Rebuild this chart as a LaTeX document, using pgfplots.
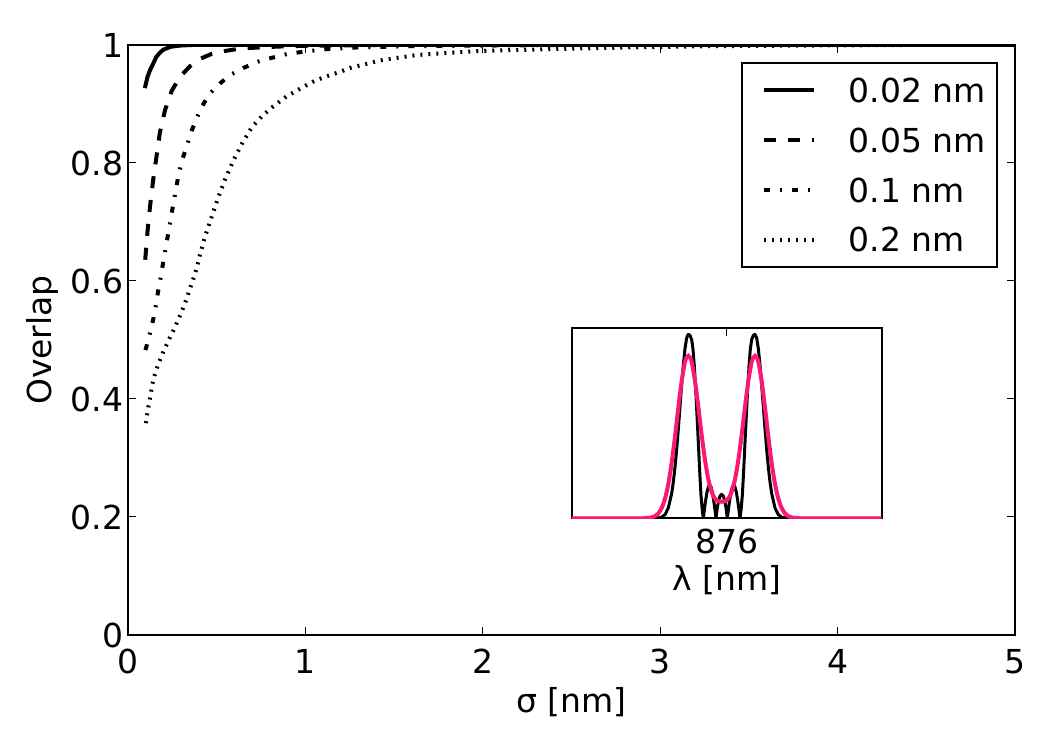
\documentclass[border=0pt]{standalone}
\usepackage{fontspec}
\setmainfont{DejaVu Sans}
\usepackage{pgfplots}
\pgfplotsset{compat=1.18}
\definecolor{inkpink}{RGB}{250,25,115}
\begin{document}
\fontsize{16.5}{19.8}\selectfont
\begin{tikzpicture}
\begin{axis}[
  name=main,
  scale only axis,
  width=443.5pt, height=295pt,
  xmin=0, xmax=5, ymin=0, ymax=1,
  xtick={0,1,2,3,4,5},
  ytick={0,0.2,0.4,0.6,0.8,1},
  yticklabels={0,0.2,0.4,0.6,0.8,1},
  /pgf/number format/assume math mode=true,
  tick align=inside,
  major tick length=4pt,
  every tick/.style={black, line width=0.5pt},
  axis line style={line width=1pt},
  xticklabel style={yshift=-1.5pt},
  yticklabel style={xshift=3.4pt},
  xlabel={σ [nm]},
  ylabel={Overlap},
  xlabel style={at={(axis description cs:0.5,-0.1136)}, anchor=center},
  ylabel style={at={(axis description cs:-0.097,0.5)}, anchor=center},
  legend cell align=left,
  legend image code/.code={\path (0pt,0pt); \draw[#1] (4.5pt,0pt) -- (29.5pt,0pt);},
  legend style={at={(axis description cs:0.9808,0.9712)}, anchor=north east,
    draw=black, line width=1pt, fill=white,
    inner xsep=5.5pt, inner ysep=7.6pt,
    /tikz/row sep=12.6pt, /tikz/column sep=16.5pt,
    nodes={inner sep=0pt, text depth=0pt}},
]
\coordinate (bl) at (rel axis cs:0,0);
\coordinate (tr) at (rel axis cs:1,1);
\coordinate (ins) at (rel axis cs:0.5002,0.1978);
\addplot[black, line width=2pt] coordinates {
(0.095,0.927) (0.11,0.946) (0.125,0.958) (0.143,0.969) (0.16,0.980) (0.18,0.987)
(0.199,0.992) (0.24,0.997) (0.293,0.999) (0.36,1.0) (0.45,1.0) (0.6,1) (0.8,1)
(1,1) (1.5,1) (2,1) (3,1) (4,1) (5,1)};
\addlegendentry{0.02 nm}
\addplot[black, line width=2pt, dash pattern=on 6pt off 6pt] coordinates {
(0.097,0.636) (0.11,0.684) (0.124,0.726) (0.143,0.774) (0.162,0.814) (0.18,0.852)
(0.209,0.89) (0.246,0.922) (0.293,0.946) (0.349,0.964) (0.41,0.977) (0.472,0.985)
(0.55,0.990) (0.631,0.994) (0.75,0.996) (0.9,0.998) (1.1,0.999) (1.4,1.0) (1.8,1)
(2.5,1) (3.5,1) (5,1)};
\addlegendentry{0.05 nm}
\addplot[black, line width=2pt, dash pattern=on 3pt off 5pt on 1pt off 5pt] coordinates {
(0.098,0.483) (0.105,0.49) (0.124,0.512) (0.143,0.536) (0.158,0.56) (0.171,0.585)
(0.186,0.609) (0.2,0.635) (0.227,0.681) (0.256,0.732) (0.284,0.778) (0.303,0.803)
(0.331,0.828) (0.353,0.850) (0.383,0.873) (0.415,0.895) (0.462,0.918) (0.519,0.935)
(0.575,0.949) (0.65,0.961) (0.735,0.972) (0.82,0.979) (0.9,0.985) (1.0,0.989)
(1.12,0.993) (1.3,0.996) (1.6,0.998) (2,0.999) (2.5,1.0) (3,1) (4,1) (5,1)};
\addlegendentry{0.1 nm}
\addplot[black, line width=2pt, dash pattern=on 1pt off 3pt] coordinates {
(0.101,0.359) (0.115,0.387) (0.124,0.401) (0.137,0.425) (0.152,0.442) (0.167,0.456)
(0.184,0.469) (0.203,0.483) (0.222,0.495) (0.242,0.508) (0.263,0.520) (0.282,0.534)
(0.3,0.546) (0.317,0.559) (0.333,0.572) (0.348,0.586) (0.363,0.599) (0.378,0.613)
(0.391,0.626) (0.406,0.645) (0.434,0.675) (0.472,0.709) (0.509,0.742) (0.547,0.772)
(0.594,0.804) (0.641,0.832) (0.697,0.86) (0.754,0.879) (0.819,0.896) (0.894,0.913)
(0.97,0.926) (1.05,0.939) (1.12,0.947) (1.2,0.955) (1.25,0.961) (1.44,0.975)
(1.63,0.983) (1.82,0.987) (2.0,0.990) (2.38,0.993) (2.85,0.996) (3.3,0.998)
(3.8,0.999) (4.4,1.0) (5,1.0)};
\addlegendentry{0.2 nm}
\end{axis}
\begin{axis}[
  at={(ins)}, anchor=south west,
  scale only axis,
  width=155pt, height=95pt,
  xmin=-450, xmax=480, ymin=0, ymax=1,
  xtick={15}, xticklabels={876}, ytick=\empty,
  /pgf/number format/assume math mode=true,
  tick align=inside,
  major tick length=4pt,
  every tick/.style={black, line width=0.5pt},
  axis line style={line width=1pt},
  axis background/.style={fill=white},
  xticklabel style={yshift=0.5pt},
  xlabel={λ [nm]},
  xlabel style={at={(axis description cs:0.5,-0.325)}, anchor=center},
]
\addplot[black, line width=1.5pt, line join=round] coordinates {
(-450,0) (-200,0) (-180,0.006) (-170,0.019) (-160,0.055) (-150,0.131) (-145,0.191)
(-140,0.269) (-135,0.363) (-130,0.470) (-125,0.587) (-120,0.702) (-115,0.808)
(-110,0.893) (-105,0.950) (-100,0.968) (-95,0.963) (-90,0.94) (-86,0.89) (-82,0.80)
(-78,0.68) (-74,0.54) (-70,0.40) (-66,0.25) (-62,0.12) (-58,0.04) (-55,0)
(-52,0.043) (-48,0.095) (-44,0.138) (-40,0.165) (-36,0.175) (-32,0.165) (-28,0.138)
(-24,0.095) (-20,0.043) (-17,0) (-13,0.056) (-9,0.093) (-5,0.117) (0,0.126)
(5,0.117) (9,0.093) (13,0.056) (17,0) (20,0.043) (24,0.095) (28,0.138) (32,0.165)
(36,0.175) (40,0.165) (44,0.138) (48,0.095) (52,0.043) (55,0) (58,0.04) (62,0.12)
(66,0.25) (70,0.40) (74,0.54) (78,0.68) (82,0.80) (86,0.89) (90,0.94) (95,0.963)
(100,0.968) (105,0.950) (110,0.893) (115,0.808) (120,0.702) (125,0.587) (130,0.470)
(135,0.363) (140,0.269) (145,0.191) (150,0.131) (160,0.055) (170,0.019) (180,0.006)
(200,0) (480,0)};
\addplot[inkpink, line width=2pt, smooth, tension=0.5] coordinates {
(-450,0) (-250,0) (-230,0.001) (-215,0.003) (-200,0.011) (-190,0.026) (-180,0.054)
(-170,0.103) (-160,0.181) (-150,0.292) (-140,0.43) (-130,0.583) (-120,0.723)
(-110,0.824) (-105,0.846) (-100,0.855) (-95,0.846) (-90,0.824) (-80,0.723)
(-70,0.587) (-60,0.438) (-50,0.307) (-40,0.205) (-30,0.139) (-20,0.103) (-10,0.090)
(0,0.087) (10,0.090) (20,0.103) (30,0.139) (40,0.205) (50,0.307) (60,0.438)
(70,0.587) (80,0.723) (90,0.824) (95,0.846) (100,0.855) (105,0.846) (110,0.824)
(120,0.723) (130,0.583) (140,0.43) (150,0.292) (160,0.181) (170,0.103) (180,0.054)
(190,0.026) (200,0.011) (215,0.003) (230,0.001) (250,0) (480,0)};
\end{axis}
\pgfresetboundingbox
\path ([shift={(-64pt,-57.5pt)}]bl) rectangle ([shift={(17.5pt,22.5pt)}]tr);
\end{tikzpicture}
\end{document}
